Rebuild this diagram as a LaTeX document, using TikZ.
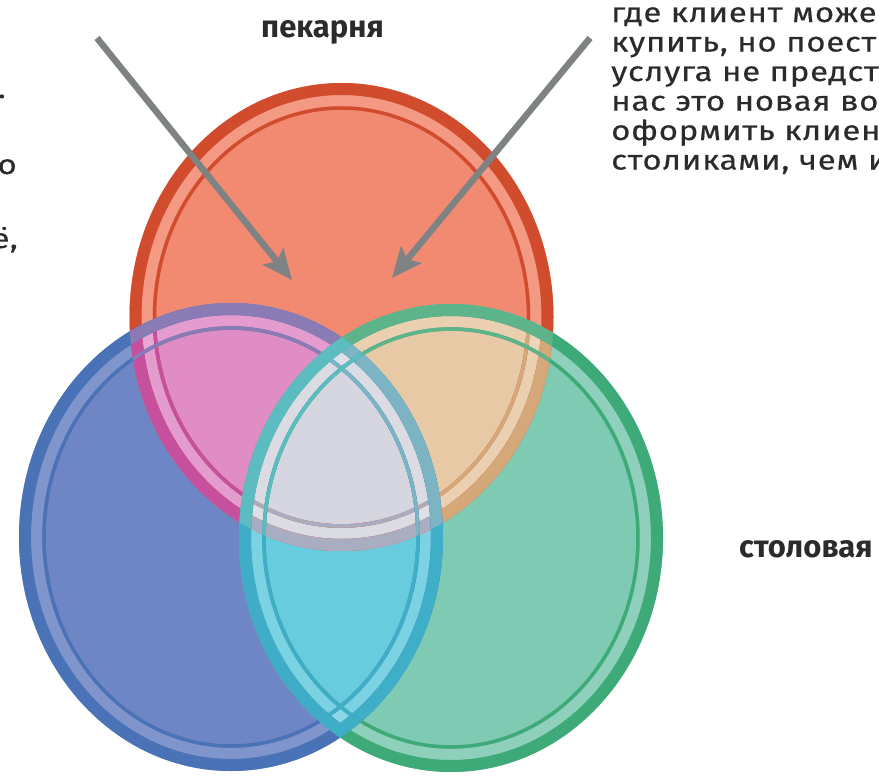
\documentclass[tikz,border=0pt]{standalone}
\usepackage{fontspec}
\setmainfont{Fira Sans}
\newfontfamily\bodyfont{Fira Sans}[FakeStretch=1.2,LetterSpace=2.5,FakeBold=0.3]
\usetikzlibrary{arrows.meta}
\definecolor{rfill}{HTML}{F28A72}
\definecolor{bfill}{HTML}{6F86C6}
\definecolor{gfill}{HTML}{7ECAB2}
\definecolor{rbfill}{HTML}{E08DC6}
\definecolor{rgfill}{HTML}{E8C9A6}
\definecolor{bgfill}{HTML}{68CCDF}
\definecolor{rbgfill}{HTML}{D6D6E0}
\definecolor{rring}{HTML}{D14B2D}
\definecolor{rringB}{HTML}{C64F9E}
\definecolor{rringG}{HTML}{D4A878}
\definecolor{rringBG}{HTML}{A9ADC2}
\definecolor{bring}{HTML}{4A72B6}
\definecolor{bringR}{HTML}{8A7BB5}
\definecolor{bringG}{HTML}{3FAFC8}
\definecolor{bringRG}{HTML}{7DB4C4}
\definecolor{gring}{HTML}{3DAA78}
\definecolor{gringR}{HTML}{5DB38A}
\definecolor{gringB}{HTML}{40ADC8}
\definecolor{gringRB}{HTML}{5CBCC0}
\definecolor{arrowc}{HTML}{7E8282}
\definecolor{txt}{HTML}{2B2B2B}
\newcommand\ringat[2]{%
  \draw[#2,line width=12pt] #1 ellipse [x radius=206pt,y radius=228pt];
  \draw[#2,line width=3.5pt] #1 ellipse [x radius=187pt,y radius=209pt];}
\newcommand\bandat[1]{%
  \draw[white,opacity=.13,line width=11pt] #1 ellipse [x radius=194.5pt,y radius=216.5pt];}
\begin{document}
\begin{tikzpicture}[x=1pt,y=-1pt,
  body/.style={font=\bodyfont\fontsize{27.5}{29.5}\selectfont,text=txt,inner sep=0pt,anchor=base west},
  frag/.style={font=\bodyfont\fontsize{27.5}{29.5}\selectfont,text=txt,inner sep=0pt,anchor=base east},
  lbl/.style={font=\bfseries\fontsize{31}{33}\selectfont,text=txt,inner sep=0pt,anchor=base west},
  pointer/.style={arrowc,line width=6.5pt,-{Stealth[length=30pt,width=26pt,inset=6pt]}}]
\useasboundingbox (0,0) rectangle (879,777);
\clip (0,0) rectangle (879,777);
\def\Rc{(341.5,317)}
\def\Bc{(231,537)}
\def\Gc{(451,538)}
\def\Rp{(341.5,317) ellipse [x radius=212pt,y radius=234pt]}
\def\Bp{(231,537) ellipse [x radius=212pt,y radius=234pt]}
\def\Gp{(451,538) ellipse [x radius=212pt,y radius=234pt]}
% fills
\fill[rfill] \Rp;
\fill[bfill] \Bp;
\fill[gfill] \Gp;
\begin{scope}\clip \Rp; \fill[rbfill] \Bp; \fill[rgfill] \Gp; \end{scope}
\begin{scope}\clip \Bp; \fill[bgfill] \Gp; \end{scope}
\begin{scope}\clip \Rp; \clip \Bp; \fill[rbgfill] \Gp; \end{scope}
% light bands
\bandat{\Rc}
\bandat{\Bc}
\bandat{\Gc}
% red rings
\ringat{\Rc}{rring}
\begin{scope}\clip \Bp; \ringat{\Rc}{rringB}\end{scope}
\begin{scope}\clip \Gp; \ringat{\Rc}{rringG}\end{scope}
\begin{scope}\clip \Bp; \clip \Gp; \ringat{\Rc}{rringBG}\end{scope}
% blue rings
\ringat{\Bc}{bring}
\begin{scope}\clip \Rp; \ringat{\Bc}{bringR}\end{scope}
\begin{scope}\clip \Gp; \ringat{\Bc}{bringG}\end{scope}
\begin{scope}\clip \Rp; \clip \Gp; \ringat{\Bc}{bringRG}\end{scope}
% green rings
\ringat{\Gc}{gring}
\begin{scope}\clip \Rp; \ringat{\Gc}{gringR}\end{scope}
\begin{scope}\clip \Bp; \ringat{\Gc}{gringB}\end{scope}
\begin{scope}\clip \Rp; \clip \Bp; \ringat{\Gc}{gringRB}\end{scope}
% arrows
\coordinate (la) at (97,38);
\coordinate (lb) at (292,280);
\coordinate (ra) at (590,38);
\coordinate (rb) at (392,278);
\draw[pointer] (la) -- (lb);
\draw[pointer] (ra) -- (rb);
% labels
\node[lbl] (bakery) at (261,37) {пекарня};
\node[lbl] (canteen) at (739,557) {столовая};
% right text
\node[body] (t1) at (611,22) {где клиент може};
\node[body] (t2) at (611,51.5) {купить, но поест};
\node[body] (t3) at (611,81) {услуга не предст};
\node[body] (t4) at (611,110.5) {нас это новая во};
\node[body] (t5) at (611,140) {оформить клиен};
\node[body] (t6) at (611,169.5) {столиками, чем и};
% left fragments
\node[frag] (f1) at (6,98) {.};
\node[frag] (f2) at (17,174) {о};
\node[frag] (f3) at (18,248) {ё,};
\end{tikzpicture}
\end{document}
